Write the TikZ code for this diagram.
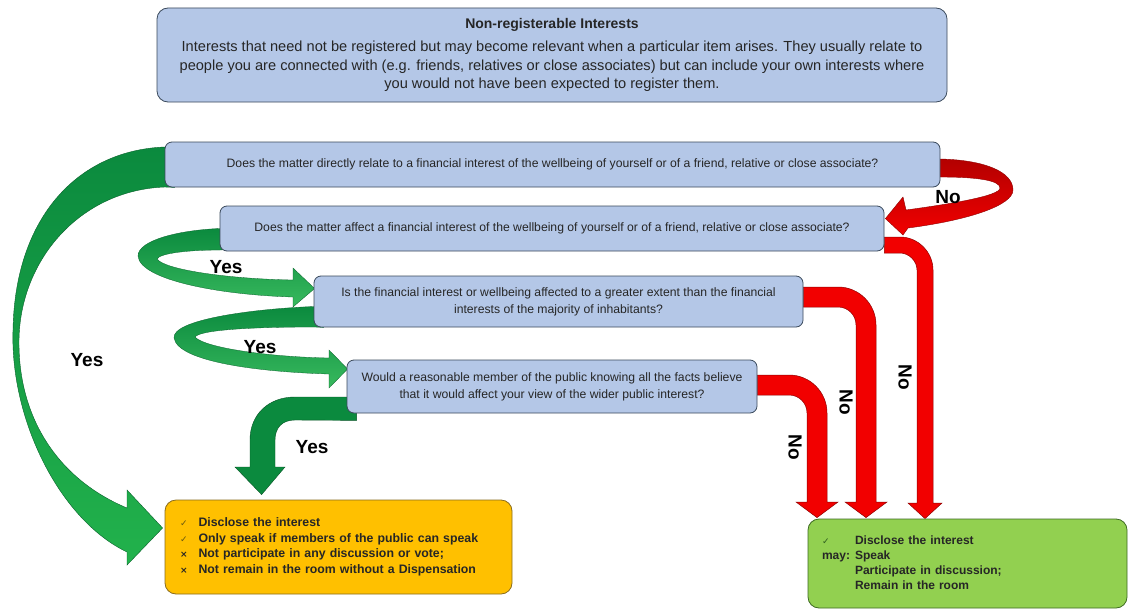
\documentclass[tikz,border=0pt]{standalone}
\usepackage{fontspec}
\setmainfont{Liberation Sans}
\newfontfamily\symfont{DejaVu Sans}
\usetikzlibrary{calc}
\pgfdeclarelayer{bg}
\pgfsetlayers{bg,main}
\definecolor{boxblue}{HTML}{B4C7E7}
\definecolor{boxborder}{HTML}{3B4A5C}
\definecolor{amber}{HTML}{FFC000}
\definecolor{amberborder}{HTML}{8A6D1E}
\definecolor{lgreen}{HTML}{92D050}
\definecolor{lgreenborder}{HTML}{3E6B22}
\definecolor{dkgreen}{HTML}{0B8A3E}
\definecolor{brgreen}{HTML}{22B24C}
\definecolor{arrred}{HTML}{F20000}
\definecolor{dkred}{HTML}{B30000}
\definecolor{chkcol}{HTML}{6B5A10}
\definecolor{chkgreen}{HTML}{2F5F1F}
\newcommand{\chk}{{\symfont\fontsize{9}{9}\selectfont\color{chkcol}✓}}
\newcommand{\crs}{{\symfont\fontsize{9}{9}\selectfont ×}}
\newcommand{\gchk}{{\symfont\fontsize{9}{9}\selectfont\color{chkgreen}✓}}
\begin{document}
\begin{tikzpicture}[x=1pt,y=-1pt,
  topbox/.style={draw=boxborder, line width=0.8pt, fill=boxblue, rounded corners=11pt, align=center, inner sep=0pt, font=\fontsize{14.6}{18.5}\selectfont, text=black!85},
  qbox/.style={draw=boxborder, line width=0.8pt, fill=boxblue, rounded corners=7pt, align=center, inner sep=0pt, font=\fontsize{12.2}{17}\selectfont, text=black!85},
  obox/.style={draw=amberborder, line width=0.8pt, fill=amber, rounded corners=11pt, inner xsep=15pt, inner ysep=0pt, font=\fontsize{12.3}{15.5}\selectfont\bfseries, text=black!85},
  gbox/.style={draw=lgreenborder, line width=0.8pt, fill=lgreen, rounded corners=11pt, inner xsep=14pt, inner ysep=0pt, font=\fontsize{12}{15}\selectfont\bfseries, text=black!85},
  lbl/.style={font=\fontsize{19}{19}\selectfont\bfseries, inner sep=0pt},
  bigarrow/.style={draw=dkgreen!70!black, line width=0.4pt, top color=dkgreen, bottom color=brgreen},
  ribbon/.style={draw=dkgreen!70!black, line width=0.3pt, top color=dkgreen, bottom color=brgreen!90!white},
  dkarrow/.style={draw=dkgreen!60!black, line width=0.4pt, fill=dkgreen},
  redcurve/.style={draw=dkred!80!black, line width=0.4pt, top color=dkred, bottom color=arrred},
  redL/.style={draw=dkred!80!black, line width=0.5pt, fill=arrred}
]
\useasboundingbox (0,0) rectangle (1129,610);

% boxes
\node[topbox, minimum width=790pt, minimum height=94pt] (top) at (552,55)
 {{\fontsize{14}{18.5}\selectfont\bfseries Non-registerable Interests}\\[5pt]Interests that need not be registered but may become relevant when a particular item arises. They usually relate to\\people you are connected with (e.g. friends, relatives or close associates) but can include your own interests where\\you would not have been expected to register them.};
\node[qbox, minimum width=775pt, minimum height=45pt] (q1) at (552.5,164.5)
 {Does the matter directly relate to a financial interest of the wellbeing of yourself or of a friend, relative or close associate?};
\node[qbox, minimum width=664pt, minimum height=45pt] (q2) at (552,228.5)
 {Does the matter affect a financial interest of the wellbeing of yourself or of a friend, relative or close associate?};
\node[qbox, minimum width=489pt, minimum height=51pt] (q3) at (558.5,301.5)
 {Is the financial interest or wellbeing affected to a greater extent than the financial\\interests of the majority of inhabitants?};
\node[qbox, minimum width=410pt, minimum height=53pt] (q4) at (552,386.5)
 {Would a reasonable member of the public knowing all the facts believe\\that it would affect your view of the wider public interest?};
\node[obox, minimum width=347pt, minimum height=94pt, text width=317pt, align=left] (orange) at (338.5,547)
 {\begin{tabular}{@{}l@{\hspace{11pt}}l@{}}
 \chk & Disclose the interest\\
 \chk & Only speak if members of the public can speak\\
 \crs & Not participate in any discussion or vote;\\
 \crs & Not remain in the room without a Dispensation
 \end{tabular}};
\node[gbox, minimum width=319pt, minimum height=89pt, text width=291pt, align=left] (green) at (967.5,563.5)
 {\begin{tabular}{@{}l@{\hspace{5pt}}l@{}}
 \gchk & Disclose the interest\\
 may: & Speak\\
  & Participate in discussion;\\
  & Remain in the room
 \end{tabular}};

% labels
\node[lbl] (yes0) at (87,360) {Yes};
\node[lbl] (yes1) at (226,267) {Yes};
\node[lbl] (yes2) at (260,347) {Yes};
\node[lbl] (yes3) at (312,447) {Yes};
\node[lbl] (no0) at (948,197) {No};
\node[lbl, rotate=-90] (no1) at (905,377) {No};
\node[lbl, rotate=-90] (no2) at (846,402) {No};
\node[lbl, rotate=-90] (no3) at (795,447) {No};

\begin{pgfonlayer}{bg}
\fill[white] (0,0) rectangle (1129,610);
% big green arrow Q1 -> orange
\path[bigarrow] ($(q1.north west)+(10,5)$) -- (165,147) .. controls (80,150) and (15,215) .. (13,330)
  .. controls (10,420) and (60,520) .. (127,552) -- (127,565) -- ($(orange.west)+(-2,-19)$) -- (127,490) -- (127,508)
  .. controls (60,480) and (18,420) .. (19,340) .. controls (20,260) and (80,190) .. (165,187) -- ($(q1.south west)+(10,0)$) -- cycle;
% ribbon Q2 -> Q3
\path[ribbon] ($(q2.west)+(10,0)$) -- (220,228.5) .. controls (180,230) and (138,240) .. (138,256)
  .. controls (140,280) and (220,295) .. (293,297) -- (293,307) -- ($(q3.west)+(1,-13)$) -- (293,268) -- (293,280)
  .. controls (230,279) and (165,270) .. (157,259) .. controls (160,253) and (190,250) .. (220,250) -- ($(q2.south west)+(10,-2)$) -- cycle;
% ribbon Q3 -> Q4
\path[ribbon] ($(q3.west)+(10,5)$) -- (314,306.5) .. controls (250,309) and (172,320) .. (174,338)
  .. controls (178,362) and (260,372) .. (329,374) -- (329,388) -- ($(q4.west)+(1,-17.5)$) -- (329,350) -- (329,358)
  .. controls (270,357) and (205,348) .. (195,337) .. controls (200,330) and (250,327) .. (314,327) -- ($(q3.south west)+(10,0)$) -- cycle;
% dark green Q4 -> orange
\path[dkarrow] ($(q4.west)+(10,10.5)$) -- (295,397) .. controls (268,397) and (250,415) .. (250,440) -- (250,467) -- (235,467)
  -- ($(orange.north west)+(97,-5)$) -- (285,467) -- (275,467) -- (275,440) .. controls (275,428) and (282,420) .. (295,420)
  -- ($(q4.south west)+(10,7)$) -- cycle;
% red curve Q1 -> Q2
\path[redcurve] ($(q1.east)+(-10,-5)$) -- (940,159) .. controls (985,160) and (1013,172) .. (1013,190)
  .. controls (1013,205) and (970,220) .. (908,228) -- (903,235) -- ($(q2.north east)+(1,13)$) -- (903,197) -- (906,210)
  .. controls (950,204) and (1000,196) .. (1000,188) .. controls (1000,180) and (975,177) .. (940,177) -- ($(q1.east)+(-10,12)$) -- cycle;
% red L Q2 -> green
\path[redL] ($(q2.east)+(0,8.5)$) -- (900,237) .. controls (918,237) and (933,252) .. (933,270) -- (933,503) -- (942,503)
  -- ($(green.north)+(-42.5,0)$) -- (908,503) -- (917,503) -- (917,270) .. controls (917,261) and (909,253) .. (900,253)
  -- ($(q2.east)+(0,24.5)$) -- cycle;
% red L Q3 -> green
\path[redL] ($(q3.east)+(0,-14.5)$) -- (838,287) .. controls (859,287) and (876,304) .. (876,325) -- (876,502) -- (887,502)
  -- ($(green.north)+(-101.5,-1)$) -- (845,502) -- (856,502) -- (856,325) .. controls (856,315) and (848,307) .. (838,307)
  -- ($(q3.east)+(0,5.5)$) -- cycle;
% red L Q4 -> green
\path[redL] ($(q4.east)+(0,-11.5)$) -- (789,375) .. controls (810,375) and (827,392) .. (827,413) -- (827,502) -- (838,502)
  -- ($(green.north)+(-150.5,-1)$) -- (796,502) -- (807,502) -- (807,413) .. controls (807,403) and (799,395) .. (789,395)
  -- ($(q4.east)+(0,8.5)$) -- cycle;
\end{pgfonlayer}
\end{tikzpicture}
\end{document}
